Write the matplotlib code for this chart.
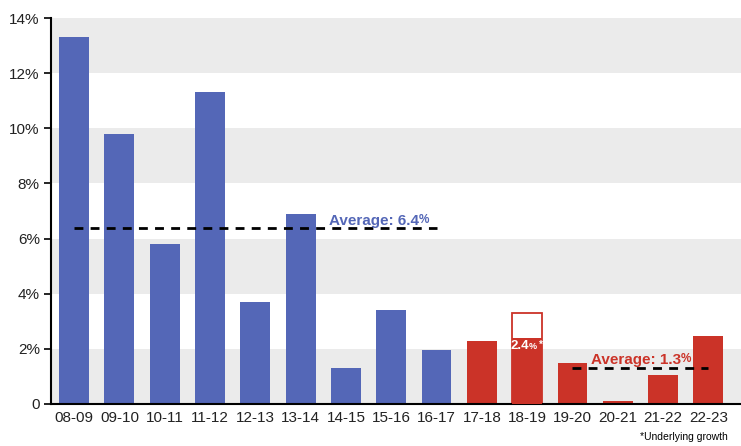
import numpy as np
import matplotlib.pyplot as plt

plt.rcParams['font.family'] = ['Liberation Sans', 'DejaVu Sans']

years = ['08-09', '09-10', '10-11', '11-12', '12-13', '13-14', '14-15', '15-16',
         '16-17', '17-18', '18-19', '19-20', '20-21', '21-22', '22-23']
growth = [13.3, 9.8, 5.8, 11.3, 3.7, 6.9, 1.3, 3.4, 1.95, 2.3, 3.3, 1.5, 0.1, 1.05, 2.45]
underlying = 2.4   # 18-19 underlying growth
avg_old = 6.4
avg_new = 1.3
n_old = 9          # bars up to 16-17 in blue

blue = '#5467b7'
red = '#cb3328'

fig = plt.figure(figsize=(7.41, 4.46), dpi=100)
ax = fig.add_axes([0.0688, 0.0942, 0.9312, 0.8654])

x = np.arange(len(years))

# alternating grey bands
for lo in range(0, 14, 4):
    ax.axhspan(lo, lo + 2, color='#ebebeb', zorder=0, lw=0)
ax.axhspan(12, 14, color='#ebebeb', zorder=0, lw=0)


def label_pct(xv, yv, txt, color, size, small):
    t = ax.text(xv, yv, txt, color=color, fontsize=size, fontweight='bold',
                ha='center', va='center', zorder=5)
    p = ax.annotate('%', xy=(1, 0.1), xycoords=t, color=color, fontsize=small,
                    fontweight='bold', ha='left', va='bottom', zorder=5)
    return t, p


cols = [blue] * n_old + [red] * (len(years) - n_old)
for i, v in enumerate(growth):
    if years[i] == '18-19':
        ax.bar(i, v, width=0.66, facecolor='white', edgecolor=red, lw=1.3, zorder=2)
        ax.bar(i, underlying, width=0.66, color=red, zorder=3)
        label_pct(i - 0.17, underlying - 0.3, '2.4', 'white', 9.5, 6.5)
        ax.text(i + 0.34, underlying - 0.06, '*', color='white', fontsize=7,
                fontweight='bold', ha='right', va='top', zorder=6)
    else:
        ax.bar(i, v, width=0.66, color=cols[i], zorder=2)

# averages
ax.plot([0, n_old - 1], [avg_old, avg_old], ls=(0, (3.2, 2.6)), color='black', lw=2, zorder=4)
ax.plot([11, 14], [avg_new, avg_new], ls=(0, (3.2, 2.6)), color='black', lw=2, zorder=4)
label_pct(6.62, avg_old + 0.25, 'Average: 6.4', blue, 11, 8.5)
label_pct(12.4, avg_new + 0.3, 'Average: 1.3', red, 11, 8.5)

ax.set_xlim(-0.51, 14.72)
ax.set_ylim(0, 14)
ax.set_xticks(x)
ax.set_xticklabels(years, fontsize=11)
ax.set_yticks(range(0, 15, 2))
ax.set_yticklabels(['0'] + [f'{t}%' for t in range(2, 15, 2)], fontsize=11)
ax.tick_params(axis='x', length=0, pad=5, colors='#222222')
ax.tick_params(axis='y', direction='out', length=5, width=1.2, pad=3, colors='#222222')
ax.tick_params(axis='y', color='black')
for s in ['top', 'right']:
    ax.spines[s].set_visible(False)
ax.spines['left'].set_linewidth(1.5)
ax.spines['bottom'].set_linewidth(1.5)

fig.text(0.982, 0.008, '*Underlying growth', fontsize=7.5, ha='right', va='bottom')

fig.savefig('out.png', dpi=100)
